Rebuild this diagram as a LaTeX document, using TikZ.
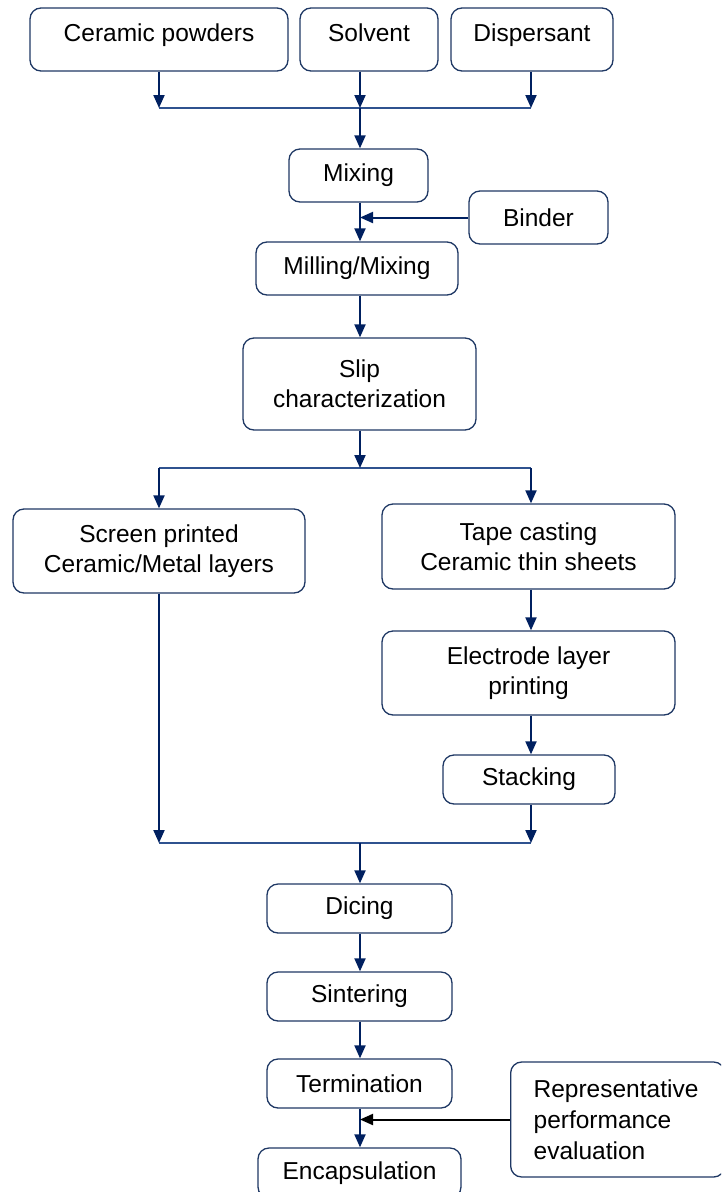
\documentclass[tikz,border=0pt]{standalone}
\usepackage{fontspec}
\setmainfont{Liberation Sans}
\usetikzlibrary{arrows.meta}
\definecolor{navy}{RGB}{0,32,96}
\definecolor{boxblue}{RGB}{31,56,100}
\definecolor{busblue}{RGB}{47,82,143}
\tikzset{
  stepbox/.style={draw=boxblue, line width=1.3pt, rounded corners=11pt,
    align=center, inner sep=0pt, font=\fontsize{24.5}{30}\selectfont},
  inbox/.style={stepbox, minimum height=63pt, text height=18pt, text depth=14pt},
  flow/.style={color=navy, line width=2pt, -{Triangle[length=13pt,width=11pt]}},
  bus/.style={draw=busblue, line width=1.5pt},
}
\begin{document}
\begin{tikzpicture}[x=1pt,y=-1pt]
  \clip (0,0) rectangle (721,1192);
  \draw
    (159,39.5) node[inbox, minimum width=258pt] (cer){Ceramic powders}
    (369,39.5) node[inbox, minimum width=138pt] (sol){Solvent}
    (532,39.5) node[inbox, minimum width=162pt] (dis){Dispersant}
    (358.5,175.5) node[stepbox, minimum width=139pt, minimum height=53pt] (mix){Mixing}
    (538.5,217.5) node[stepbox, minimum width=139pt, minimum height=53pt] (bin){Binder}
    (357,268.5) node[stepbox, minimum width=202pt, minimum height=53pt] (mil){Milling/Mixing}
    (359.5,384) node[stepbox, minimum width=233pt, minimum height=92pt] (slip){Slip\\characterization}
    (159,551) node[stepbox, minimum width=292pt, minimum height=84pt] (scr){Screen printed\\Ceramic/Metal layers}
    (528.5,546.5) node[stepbox, minimum width=293pt, minimum height=85pt] (tape){Tape casting\\Ceramic thin sheets}
    (528.5,673) node[stepbox, minimum width=293pt, minimum height=84pt] (elec){Electrode layer\\printing}
    (529,779.5) node[stepbox, minimum width=172pt, minimum height=49pt] (stk){Stacking}
    (359.5,908.5) node[stepbox, minimum width=185pt, minimum height=49pt] (dic){Dicing}
    (359.5,996.5) node[stepbox, minimum width=185pt, minimum height=49pt] (sin){Sintering}
    (359.5,1083.5) node[stepbox, minimum width=185pt, minimum height=49pt] (ter){Termination}
    (359.5,1173) node[stepbox, minimum width=203pt, minimum height=50pt] (enc){Encapsulation}
    (510,1119.5) node[stepbox, anchor=west, align=left, inner xsep=23pt, text width=168pt,
      minimum height=115pt, font=\fontsize{24.5}{31}\selectfont] (rep){Representative\\performance\\evaluation};
  \coordinate (t1) at (159,108);
  \coordinate (t2) at (360,108);
  \coordinate (t3) at (531,108);
  \coordinate (m1) at (159,468);
  \coordinate (m2) at (360,468);
  \coordinate (m3) at (531,468);
  \coordinate (b1) at (159,843);
  \coordinate (b2) at (360,843);
  \coordinate (b3) at (531,843);
  \begin{scope}[flow]
    \draw[bus, -] (t1) -- (t3);
    \draw (cer.south -| t1) to (t1);
    \draw (sol.south -| t2) to (t2);
    \draw (dis.south -| t3) to (t3);
    \draw (t2) to (t2 |- mix.north);
    \draw (mix.south -| t2) to (t2 |- mil.north);
    \draw (bin.west) to (bin.west -| t2);
    \draw (mil.south -| t2) to (t2 |- slip.north);
    \draw[bus, -] (m1) -- (m3);
    \draw (slip.south -| m2) to (m2);
    \draw (m1) to (m1 |- scr.north);
    \draw (m3) to (m3 |- tape.north);
    \draw (tape.south -| m3) to (m3 |- elec.north);
    \draw (elec.south -| m3) to (m3 |- stk.north);
    \draw[bus, -] (b1) -- (b3);
    \draw (scr.south -| b1) to (b1);
    \draw (stk.south -| b3) to (b3);
    \draw (b2) to (b2 |- dic.north);
    \draw (dic.south -| b2) to (b2 |- sin.north);
    \draw (sin.south -| b2) to (b2 |- ter.north);
    \draw (ter.south -| b2) to (b2 |- enc.north);
    \draw[color=black] (rep.west) to (rep.west -| b2);
  \end{scope}
\end{tikzpicture}
\end{document}
